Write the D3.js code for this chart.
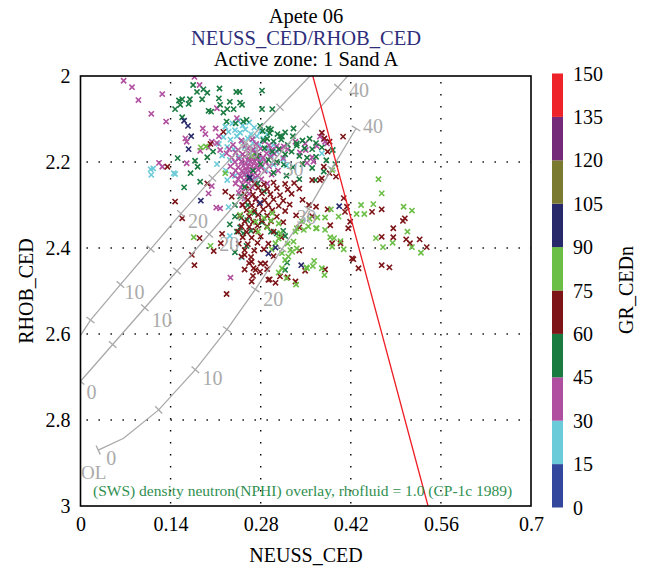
<!DOCTYPE html>
<html>
<head>
<meta charset="utf-8">
<script src="https://cdn.jsdelivr.net/npm/d3@7/dist/d3.min.js"></script>
<style>
  body { margin: 0; background: #fff; }
</style>
</head>
<body>
<svg id="chart" width="647" height="569"></svg>
<script>
// ---- axis ticks ----
const xTicks = [0, 0.14, 0.28, 0.42, 0.56, 0.7];
const xTickLabels = ["0", "0.14", "0.28", "0.42", "0.56", "0.7"];
const yTicks = [2, 2.2, 2.4, 2.6, 2.8, 3];
const yTickLabels = ["2", "2.2", "2.4", "2.6", "2.8", "3"];

// ---- GR colour bar (GR_CEDn), 15 API per band ----
const grBreaks = [0, 15, 30, 45, 60, 75, 90, 105, 120, 135, 150];
const grColors = ["#33489c", "#6ccbd9", "#b04f9f", "#1a7b41", "#7d1518",
                  "#6cbf46", "#28296b", "#7a7a31", "#742a79", "#ee2229"];

// ---- crossplot samples: [NEUSS_CED, RHOB_CED], grouped by GR band ----
const cyanPts = [
  [0.109,2.217],[0.113,2.215],[0.110,2.230],[0.147,2.228],[0.145,2.226],[0.228,2.242],[0.232,2.372],[0.251,2.422],[0.230,2.305],[0.375,2.180],
  [0.225,2.118],[0.236,2.110],[0.245,2.104],[0.252,2.115],[0.262,2.108],[0.270,2.120],[0.280,2.128],[0.290,2.136],
  [0.230,2.130],[0.240,2.126],[0.248,2.132],[0.256,2.124],[0.265,2.135],[0.274,2.140],[0.284,2.146],
  [0.222,2.142],[0.233,2.148],[0.243,2.140],[0.251,2.152],[0.260,2.145],[0.268,2.156],[0.278,2.160],
  [0.215,2.158],[0.228,2.165],[0.238,2.170],[0.255,2.166],[0.270,2.172],[0.290,2.168],[0.300,2.160],
  [0.220,2.185],[0.232,2.195],[0.246,2.188],[0.262,2.196],[0.280,2.192],[0.296,2.184],[0.305,2.176],
  [0.212,2.205],[0.226,2.220],[0.240,2.232],[0.258,2.228],[0.272,2.240],[0.288,2.218],[0.300,2.206],[0.315,2.195],[0.320,2.208]
];
const pinkPts = [
  [0.067,2.011],[0.080,2.026],[0.090,2.056],[0.127,2.042],[0.110,2.088],[0.133,2.106],[0.177,2.002],[0.185,2.021],
  [0.163,2.145],[0.165,2.153],[0.190,2.122],[0.194,2.135],[0.210,2.122],[0.215,2.140],[0.204,2.153],[0.212,2.156],
  [0.186,2.174],[0.199,2.166],[0.165,2.203],[0.122,2.202],[0.127,2.211],[0.199,2.273],[0.204,2.256],[0.211,2.306],
  [0.217,2.308],[0.243,2.098],[0.212,2.075],[0.217,2.172],[0.233,2.469],
  [0.372,2.141],[0.380,2.153],[0.316,2.164],[0.322,2.170],[0.341,2.178],[0.350,2.172],[0.362,2.199],[0.360,2.189],
  [0.334,2.153],[0.349,2.157],[0.367,2.163],[0.378,2.147],[0.383,2.157],[0.352,2.202],
  [0.250,2.150],[0.267,2.147],[0.286,2.152],
  [0.237,2.160],[0.256,2.162],[0.273,2.158],[0.293,2.161],[0.305,2.163],
  [0.231,2.170],[0.245,2.172],[0.260,2.168],[0.268,2.171],[0.280,2.169],[0.297,2.172],[0.310,2.170],
  [0.227,2.180],[0.241,2.178],[0.252,2.182],[0.263,2.180],[0.271,2.179],[0.277,2.183],[0.289,2.180],[0.301,2.181],
  [0.235,2.190],[0.246,2.192],[0.255,2.188],[0.261,2.191],[0.267,2.189],[0.275,2.192],[0.284,2.190],[0.295,2.188],[0.315,2.191],
  [0.240,2.200],[0.250,2.199],[0.257,2.202],[0.264,2.200],[0.270,2.198],[0.278,2.201],[0.288,2.200],[0.303,2.202],
  [0.233,2.210],[0.245,2.212],[0.253,2.209],[0.260,2.211],[0.266,2.210],[0.273,2.208],[0.281,2.212],[0.293,2.210],
  [0.241,2.220],[0.251,2.221],[0.257,2.219],[0.263,2.222],[0.269,2.220],[0.276,2.218],[0.286,2.221],[0.307,2.220],
  [0.236,2.230],[0.248,2.232],[0.255,2.229],[0.262,2.231],[0.268,2.230],[0.275,2.232],[0.297,2.229],
  [0.245,2.240],[0.254,2.242],[0.260,2.239],[0.267,2.241],[0.281,2.240],
  [0.241,2.250],[0.252,2.252],[0.261,2.249],[0.271,2.251],[0.290,2.250],
  [0.249,2.260],[0.257,2.262],[0.267,2.259],
  [0.246,2.272],[0.262,2.274],[0.255,2.285],[0.273,2.286],[0.251,2.300]
];
const darkGreenPts = [
  [0.175,2.021],[0.216,2.029],[0.242,2.037],[0.247,2.037],[0.282,2.034],[0.181,2.037],[0.191,2.031],[0.197,2.039],
  [0.189,2.054],[0.153,2.057],[0.158,2.054],[0.155,2.067],[0.168,2.065],[0.170,2.054],[0.147,2.077],[0.199,2.081],
  [0.203,2.083],[0.215,2.052],[0.217,2.067],[0.232,2.060],[0.248,2.062],[0.251,2.067],[0.222,2.085],[0.228,2.077],
  [0.238,2.077],[0.282,2.077],[0.298,2.077],[0.158,2.096],[0.227,2.106],[0.241,2.110],[0.253,2.106],[0.258,2.102],
  [0.292,2.122],[0.279,2.116],[0.310,2.140],[0.151,2.191],[0.178,2.197],[0.197,2.189],[0.182,2.211],[0.171,2.226],
  [0.161,2.259],[0.186,2.246],[0.336,2.157],[0.331,2.122],[0.294,2.133],[0.313,2.141],[0.284,2.149],[0.206,2.176],
  [0.283,2.128],[0.296,2.124],[0.306,2.135],[0.318,2.131],[0.330,2.140],[0.345,2.150],[0.356,2.146],[0.366,2.156],
  [0.290,2.146],[0.300,2.152],[0.312,2.148],[0.322,2.160],[0.336,2.162],[0.348,2.168],[0.360,2.170],[0.375,2.166],[0.392,2.172],
  [0.286,2.168],[0.298,2.176],[0.308,2.170],[0.318,2.182],[0.328,2.176],[0.340,2.186],[0.352,2.190],[0.366,2.188],[0.382,2.196],[0.396,2.205],
  [0.292,2.195],[0.305,2.200],[0.316,2.206],[0.330,2.212],[0.345,2.205],[0.360,2.214],[0.378,2.222],
  [0.274,2.186],[0.280,2.205],[0.268,2.220],[0.300,2.225],[0.320,2.232],[0.340,2.240],[0.365,2.242],
  [0.262,2.238],[0.255,2.258],[0.275,2.250],[0.285,2.268],[0.248,2.280],[0.240,2.300],[0.260,2.300],[0.270,2.318],
  [0.250,2.330],[0.232,2.345],[0.282,2.340],[0.296,2.362],[0.265,2.360],[0.240,2.410],[0.258,2.395],
  [0.240,2.327],[0.253,2.366],[0.315,2.360],[0.318,2.451],[0.305,2.366],[0.318,2.372],[0.248,2.352],[0.243,2.362],
  [0.321,2.434],[0.259,2.335]
];
const darkRedPts = [
  [0.270,2.250],[0.285,2.252],[0.300,2.248],[0.318,2.251],[0.332,2.249],
  [0.262,2.262],[0.276,2.260],[0.290,2.263],[0.305,2.261],[0.322,2.264],[0.340,2.262],
  [0.255,2.275],[0.268,2.276],[0.282,2.273],[0.295,2.275],[0.310,2.277],[0.328,2.274],
  [0.260,2.288],[0.272,2.286],[0.286,2.289],[0.300,2.287],[0.315,2.290],[0.345,2.288],
  [0.252,2.300],[0.266,2.301],[0.278,2.298],[0.292,2.300],[0.308,2.302],[0.325,2.299],[0.355,2.300],
  [0.258,2.312],[0.270,2.313],[0.284,2.310],[0.298,2.312],[0.318,2.314],
  [0.248,2.325],[0.262,2.326],[0.276,2.323],[0.290,2.325],[0.305,2.327],[0.335,2.324],[0.360,2.326],
  [0.255,2.338],[0.268,2.339],[0.282,2.336],[0.296,2.338],[0.315,2.340],
  [0.250,2.350],[0.262,2.351],[0.275,2.348],[0.290,2.350],[0.340,2.352],[0.388,2.347],
  [0.245,2.362],[0.258,2.363],[0.272,2.360],[0.300,2.362],
  [0.252,2.375],[0.266,2.376],[0.280,2.373],[0.312,2.375],
  [0.246,2.390],[0.260,2.391],[0.275,2.388],[0.292,2.390],
  [0.255,2.405],[0.270,2.406],[0.285,2.403],
  [0.250,2.420],[0.265,2.421],[0.300,2.419],
  [0.262,2.435],[0.280,2.436],[0.255,2.450],[0.272,2.451],[0.290,2.449],[0.268,2.465],[0.310,2.466],
  [0.135,2.211],[0.147,2.292],[0.158,2.331],[0.173,2.416],[0.177,2.440],[0.185,2.377],[0.207,2.407],[0.220,2.367],
  [0.227,2.507],[0.218,2.389],[0.222,2.130],[0.202,2.158],[0.197,2.250],[0.225,2.269],[0.235,2.281],
  [0.411,2.316],[0.419,2.339],[0.453,2.316],[0.468,2.310],[0.404,2.389],[0.424,2.426],[0.432,2.447],[0.468,2.374],
  [0.468,2.440],[0.480,2.445],[0.486,2.354],[0.486,2.375],[0.504,2.331],[0.501,2.337],[0.506,2.380],[0.512,2.389],
  [0.527,2.380],[0.538,2.398],[0.380,2.450],[0.375,2.132],[0.379,2.145],[0.387,2.153],[0.384,2.176],[0.372,2.242],
  [0.397,2.234],[0.408,2.141],[0.409,2.284],[0.414,2.304],[0.416,2.354],[0.391,2.389],[0.422,2.424],[0.360,2.242],
  [0.375,2.238],[0.378,2.211],[0.387,2.226],[0.366,2.304],[0.322,2.468],[0.334,2.478],[0.349,2.453],[0.340,2.406],
  [0.303,2.481],[0.294,2.473],[0.266,2.478],[0.255,2.416],[0.266,2.432],[0.269,2.447],[0.279,2.455],[0.287,2.436],
  [0.292,2.474],[0.384,2.310]
];
const lightGreenPts = [
  [0.463,2.240],[0.468,2.273],[0.502,2.304],[0.515,2.313],[0.455,2.298],[0.436,2.300],[0.429,2.321],[0.441,2.321],
  [0.401,2.327],[0.389,2.310],[0.391,2.219],[0.459,2.377],[0.485,2.388],[0.508,2.362],[0.515,2.398],[0.529,2.411],
  [0.470,2.398],[0.388,2.375],[0.394,2.377],[0.391,2.397],[0.409,2.403],[0.380,2.329],[0.368,2.329],[0.366,2.354],
  [0.354,2.350],[0.361,2.442],[0.351,2.445],[0.379,2.463],[0.336,2.401],[0.326,2.405],[0.318,2.428],[0.313,2.447],
  [0.308,2.457],[0.176,2.375],[0.202,2.395],[0.248,2.323],[0.264,2.316],[0.272,2.339],[0.298,2.319],[0.308,2.343],
  [0.310,2.366],[0.303,2.389],[0.331,2.385],[0.334,2.362],[0.352,2.447],[0.329,2.409],[0.313,2.412],[0.336,2.354],
  [0.347,2.358],[0.367,2.354],[0.380,2.358],[0.404,2.384],[0.308,2.378],[0.322,2.390],[0.297,2.403],[0.323,2.420],
  [0.363,2.430],[0.375,2.447],[0.187,2.166],[0.225,2.226],[0.195,2.164],[0.266,2.186],[0.320,2.470],[0.335,2.485],
  [0.285,2.330],[0.290,2.352],[0.276,2.362],[0.344,2.338],[0.356,2.332],[0.296,2.336]
];
const navyPts = [
  [0.161,2.104],[0.167,2.116],[0.172,2.140],[0.168,2.170],[0.187,2.290],[0.303,2.399],
  [0.292,2.413],[0.343,2.440],[0.402,2.303],[0.263,2.236],[0.279,2.295]
];
// representative GR value of each group
const groupGR = [22, 38, 52, 68, 82, 97];
const groupPts = [cyanPts, pinkPts, darkGreenPts, darkRedPts, lightGreenPts, navyPts];

// ---- CP-1c overlay (rhofluid = 1.0): [porosity, NPHI, RHOB]; null porosity = shape point ----
const sandstoneLine = [[0,-0.02,2.65],[0.05,0.0155,2.5675],[0.1,0.062,2.485],[0.15,0.109,2.4025],[0.2,0.156,2.32],
                       [0.25,0.205,2.2375],[0.3,0.257,2.155],[0.35,0.31,2.0725],[0.4,0.363,1.99]];
const limestoneLine = [[0,0,2.71],[0.05,0.05,2.6245],[0.1,0.1,2.539],[0.15,0.15,2.4535],[0.2,0.2,2.368],
                       [0.25,0.25,2.2825],[0.3,0.3,2.197],[0.35,0.35,2.1115],[0.4,0.4,2.026],[null,0.45,1.9405]];
const dolomiteLine = [[0,0.0275,2.87],[null,0.067,2.8426],[0.05,0.1215,2.7765],[0.1,0.1785,2.683],[0.15,0.2277,2.5895],
                      [0.2,0.2716,2.496],[0.25,0.313,2.4025],[0.3,0.3543,2.309],[0.35,0.3906,2.2155],[0.4,0.4281,2.122]];
const labelledPorosity = [0, 0.1, 0.2, 0.3, 0.4];
const porosityLabels = ["0", "10", "20", "30", "40"];
// limit line (red)
const limitLine = [[0.361, 2.0], [0.540, 3.0]];

// ---- layout ----
const FONT = "'Liberation Serif', 'Times New Roman', Times, 'DejaVu Serif', serif";
const svg = d3.select("#chart").attr("font-family", FONT);
const x = d3.scaleLinear().domain([0, 0.7]).range([80.5, 531]);
const y = d3.scaleLinear().domain([2, 3]).range([76, 506]);
const grColor = d3.scaleThreshold().domain(grBreaks.slice(1, -1)).range(grColors);
const grY = d3.scaleLinear().domain([0, 150]).range([507.5, 73.5]);

// label offsets (px) per overlay curve, keyed by labelled porosity
const labelOffsets = {
  sand: {0.1: [14, 14], 0.2: [17, 14], 0.3: [3, 15]},
  lime: {0: [11, 18], 0.1: [17, 19], 0.2: [20, 17], 0.3: [20, 15], 0.4: [21, 10]},
  dolo: {0: [13, 15], 0.1: [17, 15], 0.2: [18, 17], 0.3: [-2, 15], 0.4: [17, 5]}
};

svg.append("defs").append("clipPath").attr("id", "plotClip")
  .append("rect").attr("x", x(0)).attr("y", y(2)).attr("width", x(0.7) - x(0)).attr("height", y(3) - y(2));

// titles
const titles = [["Apete 06", "#000", 23], ["NEUSS_CED/RHOB_CED", "#2e2e7a", 45], ["Active zone: 1 Sand A", "#000", 66]];
svg.selectAll("text.title").data(titles).join("text").attr("class", "title")
  .attr("x", 306).attr("y", d => d[2]).attr("text-anchor", "middle").attr("font-family", FONT)
  .attr("font-size", 20.5).attr("fill", d => d[1]).text(d => d[0]);

// dotted grid
const grid = svg.append("g").attr("stroke", "#000").attr("stroke-width", 1.4).attr("stroke-dasharray", "1.4,10.6");
grid.selectAll("line.v").data(xTicks.slice(1, -1)).join("line").attr("class", "v")
  .attr("x1", d => x(d)).attr("x2", d => x(d)).attr("y1", y(2) + 6).attr("y2", y(3));
grid.selectAll("line.h").data(yTicks.slice(1, -1)).join("line").attr("class", "h")
  .attr("y1", d => y(d)).attr("y2", d => y(d)).attr("x1", x(0) + 6).attr("x2", x(0.7));

// samples
const plot = svg.append("g").attr("clip-path", "url(#plotClip)");
const r = 2.6;
const cross = `M${-r},${-r}L${r},${r}M${-r},${r}L${r},${-r}`;
groupPts.forEach((pts, i) => {
  plot.append("g").attr("stroke", grColor(groupGR[i])).attr("stroke-width", 1.6).attr("fill", "none")
    .selectAll("path").data(pts).join("path")
    .attr("transform", d => `translate(${x(d[0])},${y(d[1])})`).attr("d", cross);
});

// overlay curves with porosity ticks
const overlay = svg.append("g").attr("clip-path", "url(#plotClip)");
const line = d3.line().x(d => x(d[1])).y(d => y(d[2]));
function drawCurve(pts, offsets) {
  overlay.append("path").datum(pts).attr("d", line).attr("fill", "none")
    .attr("stroke", "#a9a9a9").attr("stroke-width", 1.3);
  pts.forEach((p, i) => {
    if (p[0] === null) return;
    const a = pts[Math.max(0, i - 1)], b = pts[Math.min(pts.length - 1, i + 1)];
    const dx = x(b[1]) - x(a[1]), dy = y(b[2]) - y(a[2]);
    const len = Math.hypot(dx, dy), nx = -dy / len * 5, ny = dx / len * 5;
    const px = x(p[1]), py = y(p[2]);
    overlay.append("line").attr("x1", px - nx).attr("y1", py - ny).attr("x2", px + nx).attr("y2", py + ny)
      .attr("stroke", "#a9a9a9").attr("stroke-width", 1.3);
    const k = labelledPorosity.findIndex(v => Math.abs(v - p[0]) < 1e-9);
    const off = offsets[p[0]];
    if (k >= 0 && off) {
      overlay.append("text").attr("x", px + off[0]).attr("y", py + off[1]).attr("text-anchor", "middle")
        .attr("font-family", FONT).attr("font-size", 20).attr("fill", "#aaaaaa").text(porosityLabels[k]);
    }
  });
}
drawCurve(sandstoneLine, labelOffsets.sand);
drawCurve(limestoneLine, labelOffsets.lime);
drawCurve(dolomiteLine, labelOffsets.dolo);
overlay.append("text").attr("x", x(0) + 0.5).attr("y", y(dolomiteLine[0][2]) + 29)
  .attr("font-family", FONT).attr("font-size", 19).attr("fill", "#aaaaaa").text("OL");

// limit line
overlay.append("path").datum(limitLine).attr("d", d3.line().x(d => x(d[0])).y(d => y(d[1])))
  .attr("stroke", "#ee1c24").attr("stroke-width", 1.3).attr("fill", "none");

// chart note
svg.append("text").attr("x", 93).attr("y", 496).attr("font-family", FONT).attr("font-size", 15.5).attr("fill", "#2f8f50")
  .text("(SWS) density neutron(NPHI) overlay, rhofluid = 1.0 (CP-1c 1989)");

// frame
svg.append("rect").attr("x", x(0)).attr("y", y(2)).attr("width", x(0.7) - x(0)).attr("height", y(3) - y(2))
  .attr("fill", "none").attr("stroke", "#000").attr("stroke-width", 1.6);

// axes
const xAxis = svg.append("g").attr("transform", `translate(0,${y(3)})`)
  .call(d3.axisBottom(x).tickValues(xTicks).tickSize(0).tickPadding(11).tickFormat((d, i) => xTickLabels[i]));
const yAxis = svg.append("g").attr("transform", `translate(${x(0)},0)`)
  .call(d3.axisLeft(y).tickValues(yTicks).tickSize(0).tickPadding(10).tickFormat((d, i) => yTickLabels[i]));
[xAxis, yAxis].forEach(g => {
  g.attr("font-family", FONT).attr("font-size", 20);
  g.select(".domain").remove();
  g.selectAll("text").attr("font-size", 20).attr("fill", "#000").attr("font-family", FONT);
});

svg.append("text").attr("x", 306).attr("y", 562).attr("text-anchor", "middle")
  .attr("font-family", FONT).attr("font-size", 20).text("NEUSS_CED");
svg.append("text").attr("transform", `translate(33,${(y(2) + y(3)) / 2}) rotate(-90)`)
  .attr("text-anchor", "middle").attr("font-family", FONT).attr("font-size", 20).text("RHOB_CED");

// colour bar
const bar = svg.append("g");
bar.selectAll("rect").data(grColors).join("rect")
  .attr("x", 552).attr("width", 11)
  .attr("y", (d, i) => grY(grBreaks[i + 1])).attr("height", (d, i) => grY(grBreaks[i]) - grY(grBreaks[i + 1]))
  .attr("fill", d => d);
bar.selectAll("text").data(grBreaks).join("text")
  .attr("x", 573).attr("y", d => grY(d)).attr("dy", "0.35em")
  .attr("font-family", FONT).attr("font-size", 20).text(d => d);
svg.append("text").attr("transform", "translate(633,290) rotate(-90)").attr("text-anchor", "middle")
  .attr("font-family", FONT).attr("font-size", 20).text("GR_CEDn");
</script>
</body>
</html>
